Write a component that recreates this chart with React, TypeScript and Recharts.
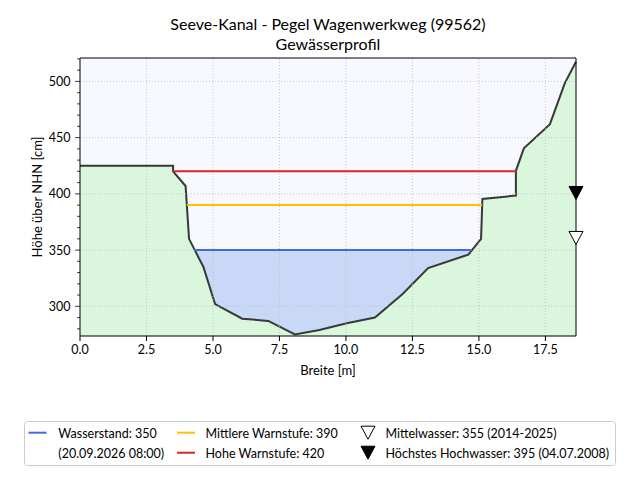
import React from 'react';
import {
  ComposedChart,
  Area,
  Line,
  Scatter,
  XAxis,
  YAxis,
  CartesianGrid,
  ReferenceLine,
} from 'recharts';

// ---- data ----
const profileX = [0, 3.5, 3.5, 3.97, 4.1, 4.64, 5.08, 6.1, 7.08, 8.08, 9.0, 10.03, 11.09, 12.13, 13.09, 14.6, 15.08, 15.13, 16.39, 16.39, 16.69, 17.67, 18.23, 18.65];
const profileY = [425, 425, 420, 407, 360, 335, 302, 289, 287, 275, 279, 285, 290, 311, 334, 346, 360, 395.5, 398.5, 420.5, 440.5, 462, 498.5, 517.5];

const WASSERSTAND = 350;
const MITTLERE_WARNSTUFE = 390;
const HOHE_WARNSTUFE = 420;
const MITTELWASSER = 355;
const HOECHSTES_HOCHWASSER = 395;

const X_MIN = 0;
const X_MAX = 18.65;
const Y_MIN = 273.6;
const Y_MAX = 520.8;

const xTicks = [0, 2.5, 5, 7.5, 10, 12.5, 15, 17.5];
const xGrid = [2.5, 5, 7.5, 10, 12.5, 15, 17.5];
const yMajorTicks = [300, 350, 400, 450, 500];
const yAllTicks = [280, 290, 300, 310, 320, 330, 340, 350, 360, 370, 380, 390, 400, 410, 420, 430, 440, 450, 460, 470, 480, 490, 500, 510, 520];

const titleLines = ['Seeve-Kanal - Pegel Wagenwerkweg (99562)', 'Gewässerprofil'];
const xLabel = 'Breite [m]';
const yLabel = 'Höhe über NHN [cm]';

// ---- derived tables ----
const profileData = profileX.map((x, i) => ({ x, y: profileY[i] }));

const iMin = profileY.indexOf(Math.min(...profileY));

function crossing(level: number) {
  let left = X_MIN;
  let right = X_MAX;
  for (let i = iMin; i > 0; i--) {
    const y0 = profileY[i];
    const y1 = profileY[i - 1];
    if ((y1 - level) * (y0 - level) <= 0 && y1 !== y0) {
      const t = (level - y0) / (y1 - y0);
      left = profileX[i] + t * (profileX[i - 1] - profileX[i]);
      break;
    }
  }
  for (let i = iMin; i < profileY.length - 1; i++) {
    const y0 = profileY[i];
    const y1 = profileY[i + 1];
    if ((y1 - level) * (y0 - level) <= 0 && y1 !== y0) {
      const t = (level - y0) / (y1 - y0);
      right = profileX[i] + t * (profileX[i + 1] - profileX[i]);
      break;
    }
  }
  return { left, right };
}

function levelLine(level: number) {
  const { left, right } = crossing(level);
  return [
    { x: left, y: level },
    { x: right, y: level },
  ];
}

const waterCross = crossing(WASSERSTAND);
const waterData = [
  { x: waterCross.left, bed: WASSERSTAND, top: WASSERSTAND },
  ...profileData
    .filter((p) => p.x > waterCross.left && p.x < waterCross.right)
    .map((p) => ({ x: p.x, bed: p.y, top: WASSERSTAND })),
  { x: waterCross.right, bed: WASSERSTAND, top: WASSERSTAND },
];

const wasserLine = levelLine(WASSERSTAND);
const mittlereLine = levelLine(MITTLERE_WARNSTUFE);
const hoheLine = levelLine(HOHE_WARNSTUFE);

const mwPoint = [{ x: X_MAX, y: MITTELWASSER }];
const hhwPoint = [{ x: X_MAX, y: HOECHSTES_HOCHWASSER }];

// ---- styles ----
const FONT = "Lato, 'Open Sans', sans-serif";
const COLOR_WATER_LINE = '#4169e1';
const COLOR_MID = '#ffc000';
const COLOR_HIGH = '#d9262b';
const COLOR_GROUND = '#daf6dd';
const COLOR_WATER = '#c8d8f6';
const COLOR_BG = '#f8f8ff';
const COLOR_PROFILE = '#383838';

const TRI_W = 14;
const TRI_H = 13;

const triangle = (filled: boolean) => (props: any) => {
  const { cx, cy } = props;
  if (cx == null || cy == null) return <g />;
  const d = `M${cx},${cy} L${cx - TRI_W / 2},${cy - TRI_H} L${cx + TRI_W / 2},${cy - TRI_H} Z`;
  return <path d={d} fill={filled ? '#000' : '#fff'} stroke="#000" strokeWidth={1} />;
};

const YTick = (props: any) => {
  const { x, y, payload } = props;
  const v = payload.value;
  const major = yMajorTicks.includes(v);
  return (
    <g>
      <line x1={x} x2={x - (major ? 4.9 : 2.8)} y1={y} y2={y} stroke="#000" strokeWidth={0.8} />
      {major && (
        <text x={x - 9.6} y={y} dy="0.36em" textAnchor="end" fontSize={12.5} fontFamily={FONT} fill="#000">
          {v}
        </text>
      )}
    </g>
  );
};

const legendTri = (cx: number, cy: number, filled: boolean) => (
  <path
    d={`M${cx},${cy + TRI_H / 2} L${cx - TRI_W / 2},${cy - TRI_H / 2} L${cx + TRI_W / 2},${cy - TRI_H / 2} Z`}
    fill={filled ? '#000' : '#fff'}
    stroke="#000"
    strokeWidth={1}
  />
);

export default function App() {
  const textProps = { fontFamily: FONT, fontSize: 12.5, fill: '#000' };
  return (
    <div style={{ position: 'absolute', left: 0, top: 0, width: 640, height: 480, background: '#fff' }}>
      <ComposedChart
        width={640}
        height={480}
        margin={{ top: 58, right: 64, bottom: 104, left: 0 }}
        style={{ fontFamily: FONT }}
      >
        <CartesianGrid fill={COLOR_BG} horizontal={false} vertical={false} stroke="none" />
        <XAxis
          type="number"
          dataKey="x"
          domain={[X_MIN, X_MAX]}
          ticks={xTicks}
          interval={0}
          tickFormatter={(v: number) => v.toFixed(1)}
          tickSize={5}
          tickMargin={4}
          height={40}
          stroke="#000"
          tick={{ fill: '#000', fontSize: 12.5, fontFamily: FONT }}
          label={{ value: xLabel, position: 'insideBottom', offset: 1.5, fill: '#000', fontSize: 13, fontFamily: FONT }}
        />
        <YAxis
          type="number"
          domain={[Y_MIN, Y_MAX]}
          ticks={yAllTicks}
          interval={0}
          width={80}
          tickSize={0}
          tickMargin={0}
          tickLine={false}
          stroke="#000"
          tick={<YTick />}
          label={{
            value: yLabel,
            angle: -90,
            position: 'insideLeft',
            offset: 37,
            fill: '#000',
            fontSize: 13,
            fontFamily: FONT,
            style: { textAnchor: 'middle' },
          }}
        />
        <Area
          data={waterData}
          dataKey={(d: any) => [d.bed, d.top]}
          type="linear"
          stroke="none"
          fill={COLOR_WATER}
          fillOpacity={1}
          isAnimationActive={false}
          dot={false}
          activeDot={false}
        />
        <Area
          data={profileData}
          dataKey="y"
          type="linear"
          baseValue={Y_MIN}
          stroke={COLOR_PROFILE}
          strokeWidth={2}
          fill={COLOR_GROUND}
          fillOpacity={1}
          isAnimationActive={false}
          dot={false}
          activeDot={false}
        />
        {xGrid.map((v) => (
          <ReferenceLine key={'gx' + v} x={v} stroke="#bdbdbd" strokeWidth={0.8} strokeDasharray="1 2" />
        ))}
        {yMajorTicks.map((v) => (
          <ReferenceLine key={'gy' + v} y={v} stroke="#bdbdbd" strokeWidth={0.8} strokeDasharray="1 2" />
        ))}
        <Line data={wasserLine} dataKey="y" type="linear" stroke={COLOR_WATER_LINE} strokeWidth={2} dot={false} activeDot={false} isAnimationActive={false} />
        <Line data={mittlereLine} dataKey="y" type="linear" stroke={COLOR_MID} strokeWidth={2} dot={false} activeDot={false} isAnimationActive={false} />
        <Line data={hoheLine} dataKey="y" type="linear" stroke={COLOR_HIGH} strokeWidth={2} dot={false} activeDot={false} isAnimationActive={false} />
        <ReferenceLine y={Y_MAX} stroke="#000" strokeWidth={1} />
        <ReferenceLine x={X_MAX} stroke="#000" strokeWidth={1} />
        <Scatter data={mwPoint} dataKey="y" shape={triangle(false)} isAnimationActive={false} />
        <Scatter data={hhwPoint} dataKey="y" shape={triangle(true)} isAnimationActive={false} />
      </ComposedChart>

      <svg
        width={640}
        height={480}
        style={{ position: 'absolute', left: 0, top: 0, pointerEvents: 'none' }}
      >
        <text x={328} y={30} textAnchor="middle" fontFamily={FONT} fontSize={16} fill="#000">
          {titleLines[0]}
        </text>
        <text x={328} y={49.5} textAnchor="middle" fontFamily={FONT} fontSize={16} fill="#000">
          {titleLines[1]}
        </text>

        <rect x={24.5} y={421.5} width={591} height={44} rx={3} fill="#fff" fillOpacity={0.85} stroke="#cccccc" strokeWidth={1} />
        <line x1={28.5} x2={46.5} y1={432.7} y2={432.7} stroke={COLOR_WATER_LINE} strokeWidth={2} />
        <text x={58.3} y={437.5} {...textProps}>Wasserstand: 350</text>
        <text x={58.3} y={458} {...textProps}>(20.09.2026 08:00)</text>

        <line x1={177} x2={195} y1={432.7} y2={432.7} stroke={COLOR_MID} strokeWidth={2} />
        <text x={205.5} y={437.5} {...textProps}>Mittlere Warnstufe: 390</text>
        <line x1={177} x2={195} y1={452.7} y2={452.7} stroke={COLOR_HIGH} strokeWidth={2} />
        <text x={205.5} y={458} {...textProps}>Hohe Warnstufe: 420</text>

        {legendTri(368, 432.7, false)}
        <text x={385.5} y={437.5} {...textProps}>Mittelwasser: 355 (2014-2025)</text>
        {legendTri(368, 452.7, true)}
        <text x={385.5} y={458} {...textProps}>Höchstes Hochwasser: 395 (04.07.2008)</text>
      </svg>
    </div>
  );
}
